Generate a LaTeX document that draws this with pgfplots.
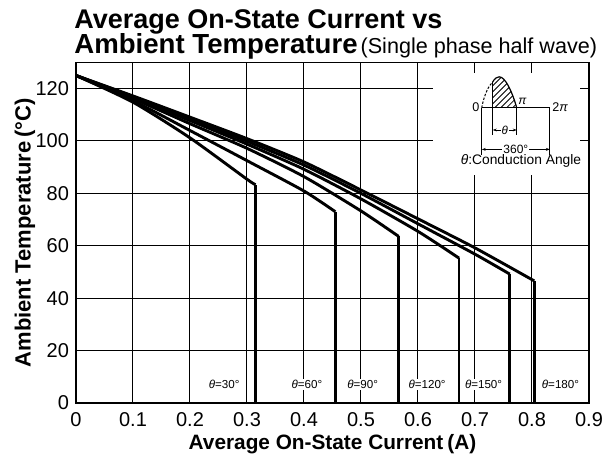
\documentclass[border=0pt]{standalone}
\usepackage{fontspec}
\setmainfont{Liberation Sans}
\usepackage{pgfplots}
\pgfplotsset{compat=1.18}
\usetikzlibrary{patterns,arrows.meta}

% curve parts (theta = 30 ... 180 deg)
\pgfplotstableread{
x y
0 125
0.1 114.8
0.2 101.2
0.3 85.4
0.315 83.3
}\tA
\pgfplotstableread{
x y
0 125
0.1 115.4
0.2 104.0
0.3 92.5
0.4 80.9
0.455 73.0
}\tB
\pgfplotstableread{
x y
0 125
0.1 116.2
0.2 106.6
0.3 97.2
0.4 86.4
0.5 73.3
0.566 63.6
}\tC
\pgfplotstableread{
x y
0 125
0.1 116.6
0.2 107.8
0.3 98.8
0.4 89.2
0.5 77.9
0.6 65.5
0.672 55.3
}\tD
\pgfplotstableread{
x y
0 125
0.1 116.9
0.2 108.5
0.3 99.9
0.4 90.8
0.5 80.0
0.6 68.4
0.7 56.8
0.761 49.2
}\tE
\pgfplotstableread{
x y
0 125
0.1 117.2
0.2 109.1
0.3 100.9
0.4 92.0
0.5 81.3
0.6 70.3
0.7 59.2
0.804 46.6
}\tF

\begin{document}
\begin{tikzpicture}
\path (-38bp,-28bp) rectangle (267bp,201.5bp);
\begin{axis}[
  at={(0,0)}, anchor=south west,
  width=256.5bp, height=170.3bp, scale only axis,
  xmin=0, xmax=0.9, ymin=0, ymax=130,
  xtick={0,0.1,0.2,0.3,0.4,0.5,0.6,0.7,0.8,0.9},
  xticklabels={0,0.1,0.2,0.3,0.4,0.5,0.6,0.7,0.8,0.9},
  ytick={0,20,40,60,80,100,120},
  grid=major, grid style={black, line width=0.5bp},
  major tick length=0pt,
  axis line style={line width=0.8bp},
  tick label style={font=\fontsize{10bp}{12bp}\selectfont},
  xticklabel style={yshift=-1bp},
  /pgf/number format/assume math mode=true,
  clip=false,
]
\addplot[black, line width=1.45bp, mark=none, smooth, tension=0.4] table[x=x,y=y] {\tA};
\addplot[black, line width=1.45bp, mark=none] coordinates {(0.315,83.3) (0.315,0)};
\addplot[black, line width=1.45bp, mark=none, smooth, tension=0.4] table[x=x,y=y] {\tB};
\addplot[black, line width=1.45bp, mark=none] coordinates {(0.455,73.0) (0.455,0)};
\addplot[black, line width=1.45bp, mark=none, smooth, tension=0.4] table[x=x,y=y] {\tC};
\addplot[black, line width=1.45bp, mark=none] coordinates {(0.566,63.6) (0.566,0)};
\addplot[black, line width=1.45bp, mark=none, smooth, tension=0.4] table[x=x,y=y] {\tD};
\addplot[black, line width=1.45bp, mark=none] coordinates {(0.672,55.3) (0.672,0)};
\addplot[black, line width=1.45bp, mark=none, smooth, tension=0.4] table[x=x,y=y] {\tE};
\addplot[black, line width=1.45bp, mark=none] coordinates {(0.761,49.2) (0.761,0)};
\addplot[black, line width=1.45bp, mark=none, smooth, tension=0.4] table[x=x,y=y] {\tF};
\addplot[black, line width=1.45bp, mark=none] coordinates {(0.804,46.6) (0.804,0)};

% angle labels
\begin{scope}[every node/.style={fill=white, inner sep=0.6bp, font=\fontsize{5.8bp}{7bp}\selectfont}]
\node at (axis cs:0.26,7) {\textit{θ}=30°};
\node at (axis cs:0.405,7) {\textit{θ}=60°};
\node at (axis cs:0.503,7) {\textit{θ}=90°};
\node at (axis cs:0.616,7) {\textit{θ}=120°};
\node at (axis cs:0.715,7) {\textit{θ}=150°};
\node at (axis cs:0.85,7) {\textit{θ}=180°};
\end{scope}

% inset
\fill[white] (axis cs:0.626,87) rectangle (axis cs:0.884,126);
\fill[pattern=north east lines] (axis cs:0.7311,112.7) -- (axis cs:0.7311,122.55)
  .. controls (axis cs:0.7345,123.9) and (axis cs:0.7390,124.5) .. (axis cs:0.7425,124.5)
  .. controls (axis cs:0.7530,124.5) and (axis cs:0.7650,119) .. (axis cs:0.7732,112.7) -- cycle;
\draw[line width=0.5bp, dash pattern=on 1.2bp off 0.8bp] (axis cs:0.7118,112.7)
  .. controls (axis cs:0.7170,118.5) and (axis cs:0.7250,121.2) .. (axis cs:0.7311,122.55);
\draw[line width=0.6bp] (axis cs:0.7311,122.55)
  .. controls (axis cs:0.7345,123.9) and (axis cs:0.7390,124.5) .. (axis cs:0.7425,124.5)
  .. controls (axis cs:0.7530,124.5) and (axis cs:0.7650,119) .. (axis cs:0.7732,112.7);
\draw[line width=0.5bp] (axis cs:0.7118,112.7) -- (axis cs:0.8316,112.7);
\draw[line width=0.5bp] (axis cs:0.7118,112.7) -- (axis cs:0.7118,94.7);
\draw[line width=0.5bp] (axis cs:0.8316,112.7) -- (axis cs:0.8316,94.7);
\draw[line width=0.5bp] (axis cs:0.7311,122.55) -- (axis cs:0.7311,102.3);
\draw[line width=0.5bp] (axis cs:0.7732,112.7) -- (axis cs:0.7732,102.3);
\draw[line width=0.4bp, {Stealth[length=2bp,width=1.4bp]}-{Stealth[length=2bp,width=1.4bp]}] (axis cs:0.7311,104.2) -- node[fill=white, inner sep=0.5bp, font=\fontsize{5.8bp}{7bp}\selectfont] {\textit{θ}} (axis cs:0.7732,104.2);
\draw[line width=0.4bp, {Stealth[length=2bp,width=1.4bp]}-{Stealth[length=2bp,width=1.4bp]}] (axis cs:0.7118,96.8) -- node[fill=white, inner sep=0.5bp, font=\fontsize{6bp}{7bp}\selectfont] {360°} (axis cs:0.8316,96.8);
\node[anchor=east, inner sep=1bp, font=\fontsize{6.3bp}{7bp}\selectfont] at (axis cs:0.7118,112.9) {0};
\node[anchor=west, inner sep=1bp, font=\fontsize{6.3bp}{7bp}\selectfont] at (axis cs:0.8316,112.9) {2\textit{π}};
\node[anchor=south west, inner sep=0.6bp, font=\fontsize{6bp}{7bp}\selectfont] at (axis cs:0.7732,113.2) {\textit{π}};
\node[inner sep=0, font=\fontsize{6.9bp}{8bp}\selectfont] at (axis cs:0.7807,92.4) {\textit{θ}:Conduction Angle};
\end{axis}

% titles and labels
\node[anchor=base west, inner sep=0, font=\bfseries\fontsize{13.5bp}{16bp}\selectfont] at (-1bp,187.4bp) {Average On-State Current vs};
\node[anchor=base west, inner sep=0] at (-1bp,174.9bp) {{\bfseries\fontsize{13.8bp}{16bp}\selectfont Ambient Temperature}\hspace{1.5bp}{\fontsize{10.8bp}{12bp}\selectfont (Single phase half wave)}};
\node[anchor=base, inner sep=0, font=\bfseries\fontsize{10.4bp}{13bp}\selectfont] at (128.25bp,-23bp) {Average On-State Current\hspace{2bp}(A)};
\node[rotate=90, inner sep=0, font=\bfseries\fontsize{11bp}{13bp}\selectfont] at (-25.5bp,85.15bp) {Ambient Temperature\hspace{2bp}(°C)};
\end{tikzpicture}
\end{document}
